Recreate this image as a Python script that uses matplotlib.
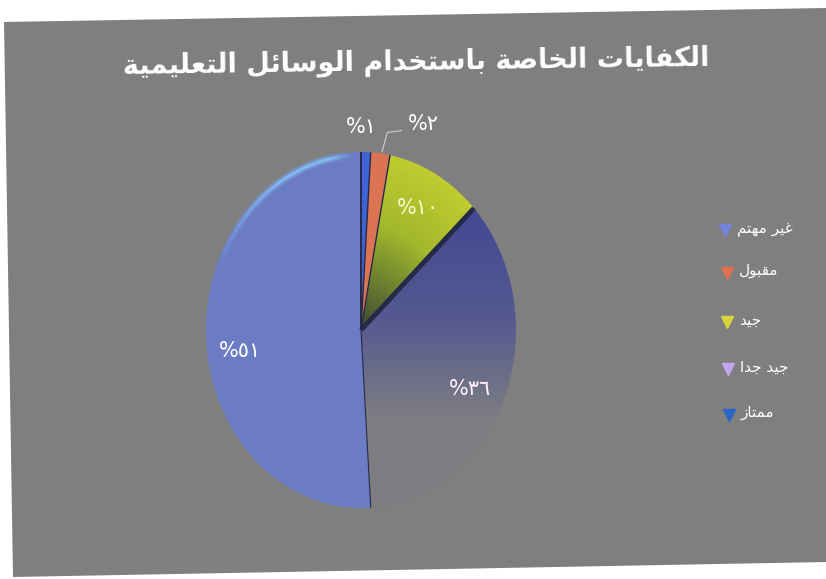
import numpy as np
import matplotlib
matplotlib.use("Agg")
import matplotlib.pyplot as plt
from matplotlib.patches import Polygon
from matplotlib.lines import Line2D
from matplotlib.colors import LinearSegmentedColormap

# ---------------- data ----------------
title = "الكفايات الخاصة باستخدام الوسائل التعليمية"
categories = ["غير مهتم", "مقبول", "جيد", "جيد جدا", "ممتاز"]
values = [1, 2, 10, 36, 51]

# ---------------- styles ----------------
slice_colors = ["#3f62d4", "#da7452", "#a3ba2e", "#4a4e90", "#6b7bc4"]
marker_colors = ["#7482dc", "#e07050", "#d6d63c", "#c4a6f0", "#2a66c6"]
label_colors = ["white", "white", "#fafad0", "#fff0ff", "white"]
label_pos = [(0.0, 1.14), (0.40, 1.16), (0.37, 0.685), (0.70, -0.33), (-0.78, -0.12)]
sep_width = [1.4, 1.0, 1.0, 3.5, 0.8]   # dark line drawn at the start edge of each slice
BG = "#7f7f7f"

# ---------------- Arabic shaping (presentation forms) ----------------
F = {
 'ء': ('\uFE80',), 'آ': ('\uFE81', '\uFE82'), 'أ': ('\uFE83', '\uFE84'),
 'ؤ': ('\uFE85', '\uFE86'), 'إ': ('\uFE87', '\uFE88'),
 'ئ': ('\uFE89', '\uFE8A', '\uFE8B', '\uFE8C'), 'ا': ('\uFE8D', '\uFE8E'),
 'ب': ('\uFE8F', '\uFE90', '\uFE91', '\uFE92'), 'ة': ('\uFE93', '\uFE94'),
 'ت': ('\uFE95', '\uFE96', '\uFE97', '\uFE98'), 'ث': ('\uFE99', '\uFE9A', '\uFE9B', '\uFE9C'),
 'ج': ('\uFE9D', '\uFE9E', '\uFE9F', '\uFEA0'), 'ح': ('\uFEA1', '\uFEA2', '\uFEA3', '\uFEA4'),
 'خ': ('\uFEA5', '\uFEA6', '\uFEA7', '\uFEA8'), 'د': ('\uFEA9', '\uFEAA'),
 'ذ': ('\uFEAB', '\uFEAC'), 'ر': ('\uFEAD', '\uFEAE'), 'ز': ('\uFEAF', '\uFEB0'),
 'س': ('\uFEB1', '\uFEB2', '\uFEB3', '\uFEB4'), 'ش': ('\uFEB5', '\uFEB6', '\uFEB7', '\uFEB8'),
 'ص': ('\uFEB9', '\uFEBA', '\uFEBB', '\uFEBC'), 'ض': ('\uFEBD', '\uFEBE', '\uFEBF', '\uFEC0'),
 'ط': ('\uFEC1', '\uFEC2', '\uFEC3', '\uFEC4'), 'ظ': ('\uFEC5', '\uFEC6', '\uFEC7', '\uFEC8'),
 'ع': ('\uFEC9', '\uFECA', '\uFECB', '\uFECC'), 'غ': ('\uFECD', '\uFECE', '\uFECF', '\uFED0'),
 'ف': ('\uFED1', '\uFED2', '\uFED3', '\uFED4'), 'ق': ('\uFED5', '\uFED6', '\uFED7', '\uFED8'),
 'ك': ('\uFED9', '\uFEDA', '\uFEDB', '\uFEDC'), 'ل': ('\uFEDD', '\uFEDE', '\uFEDF', '\uFEE0'),
 'م': ('\uFEE1', '\uFEE2', '\uFEE3', '\uFEE4'), 'ن': ('\uFEE5', '\uFEE6', '\uFEE7', '\uFEE8'),
 'ه': ('\uFEE9', '\uFEEA', '\uFEEB', '\uFEEC'), 'و': ('\uFEED', '\uFEEE'),
 'ى': ('\uFEEF', '\uFEF0'), 'ي': ('\uFEF1', '\uFEF2', '\uFEF3', '\uFEF4'),
}
LAMALEF = {'ا': ('\uFEFB', '\uFEFC'), 'أ': ('\uFEF7', '\uFEF8'),
           'إ': ('\uFEF9', '\uFEFA'), 'آ': ('\uFEF5', '\uFEF6')}


def shape(text):
    chars = [c for c in text if not ('\u064B' <= c <= '\u0652')]
    units = []
    i = 0
    while i < len(chars):
        c = chars[i]
        if c == 'ل' and i + 1 < len(chars) and chars[i + 1] in LAMALEF:
            units.append(('LA', LAMALEF[chars[i + 1]]))
            i += 2
            continue
        units.append((c, F.get(c)))
        i += 1
    out = []
    for k, (c, forms) in enumerate(units):
        if forms is None:
            out.append(c)
            continue
        prev = units[k - 1] if k > 0 else None
        nxt = units[k + 1] if k + 1 < len(units) else None
        pj = prev is not None and prev[1] is not None and prev[0] != 'LA' and len(prev[1]) == 4
        nj = len(forms) == 4 and nxt is not None and nxt[1] is not None
        if c == 'LA':
            out.append(forms[1] if pj else forms[0])
            continue
        if len(forms) == 1:
            out.append(forms[0])
        elif pj and nj:
            out.append(forms[3])
        elif nj:
            out.append(forms[2])
        elif pj:
            out.append(forms[1])
        else:
            out.append(forms[0])
    return ''.join(reversed(out))


AR_DIGITS = str.maketrans("0123456789", "٠١٢٣٤٥٦٧٨٩")

def pct_label(v):
    return "%" + str(v).translate(AR_DIGITS)

# ---------------- figure ----------------
W, H = 826, 579
fig = plt.figure(figsize=(W / 100, H / 100), dpi=100, facecolor="white")

# tilted gray scanned page
corners = [(4, 22), (826, 8), (826, 562), (13, 577)]
fig.patches.append(Polygon([(x / W, 1 - y / H) for x, y in corners], closed=True,
                           transform=fig.transFigure, facecolor=BG, edgecolor="none", zorder=-5))

# pie (ellipse because of scan distortion)
cx, cy, rx, ry = 361, 330, 155, 178
ax = fig.add_axes([(cx - rx) / W, 1 - (cy + ry) / H, 2 * rx / W, 2 * ry / H])
ax.set_zorder(2)
ax.set_facecolor("none")
wedges, _ = ax.pie(values, colors=slice_colors, startangle=90, counterclock=False,
                   wedgeprops=dict(linewidth=0))
ax.set_aspect("auto")
ax.axis("off")

yy, xx = np.mgrid[1:-1:300j, -1:1:300j]

# dark slice: navy at top fading to the gray page toward the bottom
big = wedges[3]
big.set_facecolor("none")
g1 = np.clip((0.6 - yy) / 1.1, 0, 1)
cmap1 = LinearSegmentedColormap.from_list("g1", ["#454a92", "#565a90", "#7d7d82"])
im1 = ax.imshow(g1, extent=[-1, 1, -1, 1], cmap=cmap1, aspect="auto", zorder=0.5, vmin=0, vmax=1)
im1.set_clip_path(big)

# green slice: darker near the centre, bright yellow-green at the rim
grn = wedges[2]
grn.set_facecolor("none")
g2 = np.clip(np.hypot(xx, yy), 0, 1)
cmap2 = LinearSegmentedColormap.from_list(
    "g2", [(0, "#3e4634"), (0.3, "#6c8030"), (0.6, "#a2b82c"), (1, "#c0cc30")])
im2 = ax.imshow(g2, extent=[-1, 1, -1, 1], cmap=cmap2, aspect="auto", zorder=0.5, vmin=0, vmax=1)
im2.set_clip_path(grn)

# light rim glow on the upper-left of the large blue slice
w5 = wedges[4]
n = 120
t = np.radians(np.linspace(w5.theta1 + 3, w5.theta1 + 70, n))
fade = np.clip(np.linspace(1.6, 0, n), 0, 1) * np.clip(np.linspace(0, 8, n), 0, 1)
for lw, a in [(6, 0.2), (3.5, 0.3), (1.8, 0.5)]:
    for k in range(n - 1):
        ax.plot(np.cos(t[k:k + 2]) * 0.982, np.sin(t[k:k + 2]) * 0.982,
                color="#90d4ff", lw=lw, alpha=a * fade[k], solid_capstyle="butt", zorder=1)

# dark separators at the starting edge of each slice
for w, sw in zip(wedges, sep_width):
    th = np.radians(w.theta2)
    ax.plot([0, np.cos(th)], [0, np.sin(th)], color="#262a48", lw=sw, zorder=1.5,
            solid_capstyle="butt")

ax.set_xlim(-1, 1)
ax.set_ylim(-1, 1)

for (x, y), v, col in zip(label_pos, values, label_colors):
    ax.text(x, y, pct_label(v), color=col, fontsize=15, ha="center", va="center",
            family="DejaVu Sans", clip_on=False, zorder=3)

# leader line for the 2% label
ax.plot([0.135, 0.17, 0.26], [1.0, 1.11, 1.12], color="#d0d0d0", lw=0.8, clip_on=False)

# title
fig.text(416 / W, 1 - 62 / H, shape(title), color="white", fontsize=19.5, fontweight="bold",
         ha="center", va="center", family="DejaVu Sans", rotation=0.8)

# legend
leg_y = [230, 273, 322, 369, 415]
leg_x = [725, 727, 727, 728, 729]
for cat, mc, y, x in zip(categories, marker_colors, leg_y, leg_x):
    fig.add_artist(Line2D([x / W], [1 - y / H], marker="v", markersize=8, color=mc,
                          linestyle="none", transform=fig.transFigure))
    fig.text((x + 12) / W, 1 - (y - 2) / H, shape(cat), color="white", fontsize=11,
             ha="left", va="center", family="DejaVu Sans")

fig.savefig("out.png", dpi=100, facecolor="white")
